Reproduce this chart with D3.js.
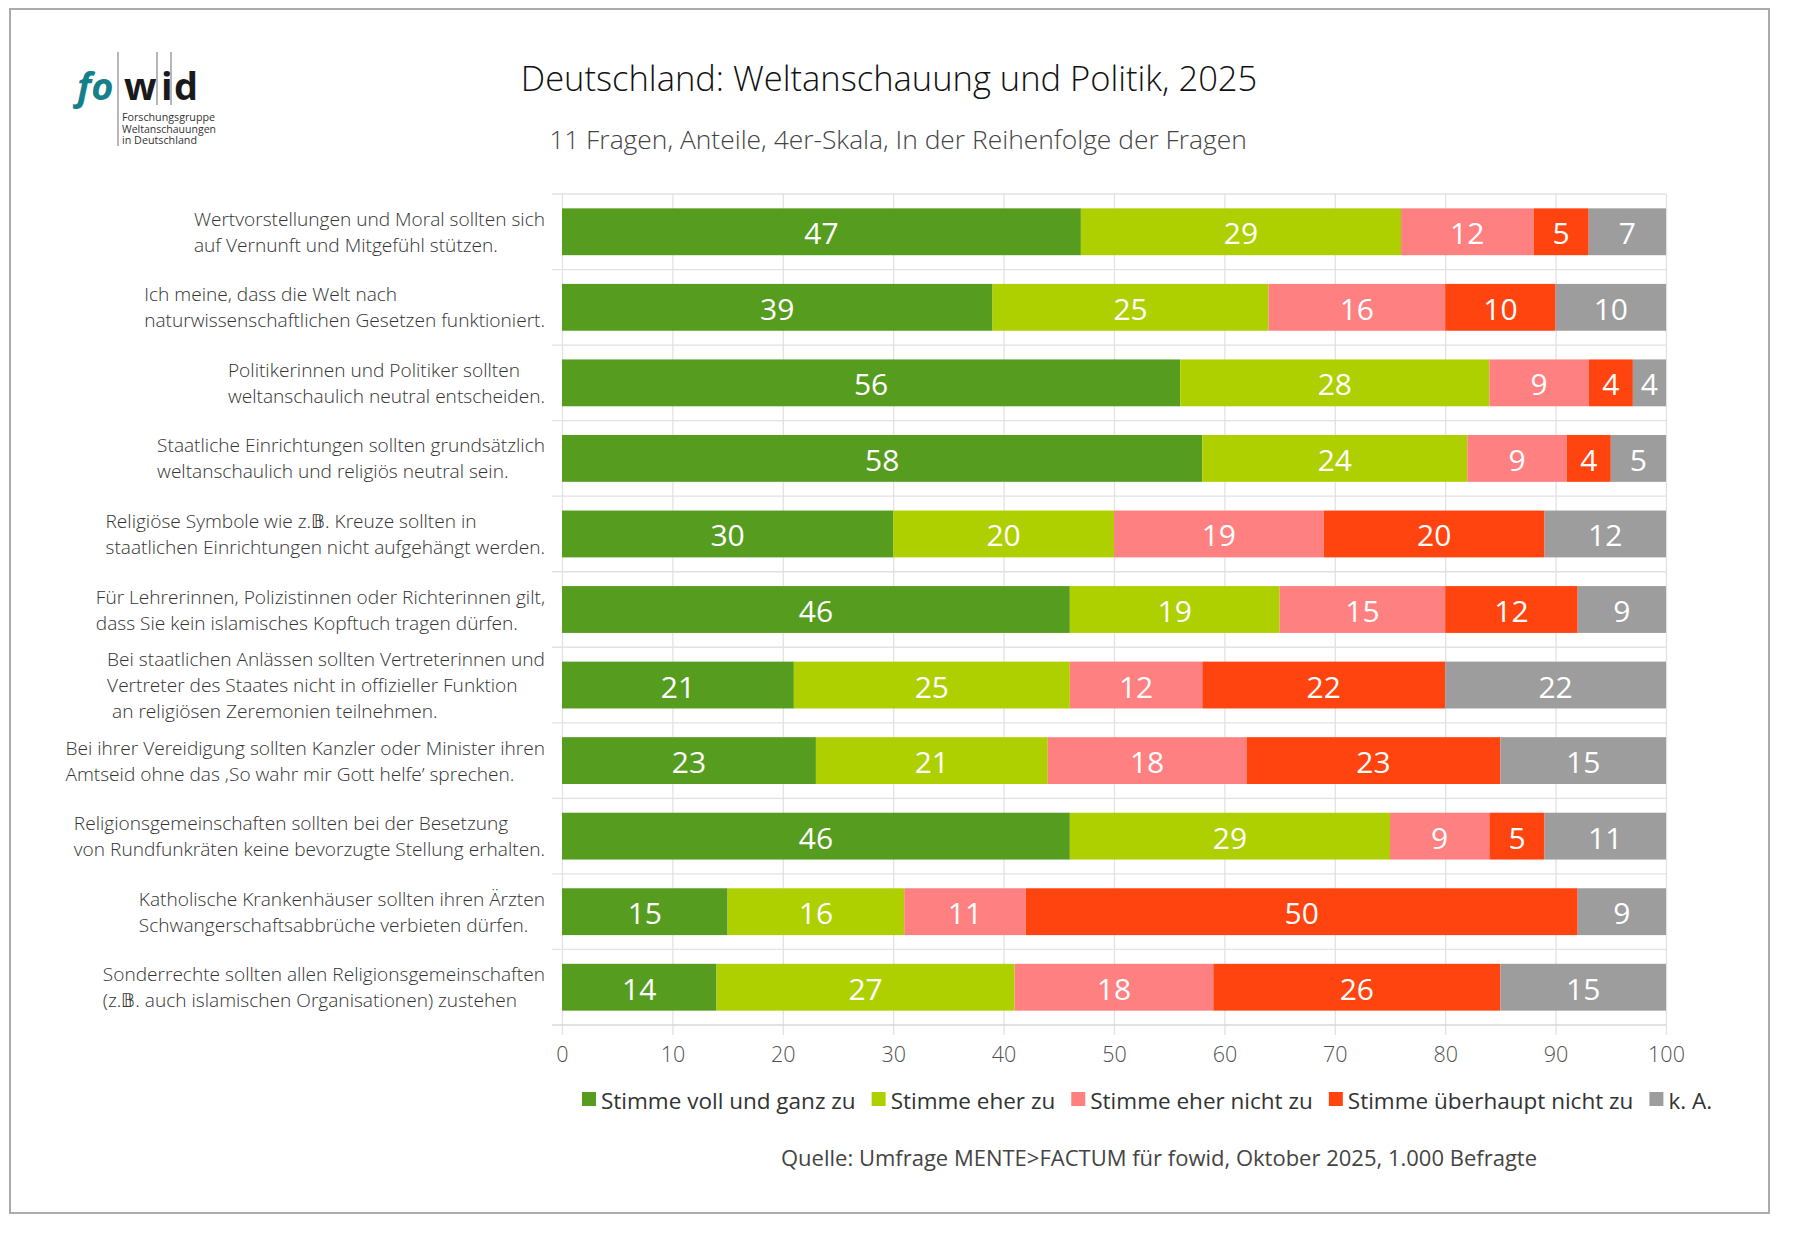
<!DOCTYPE html>
<html lang="de">
<head>
<meta charset="UTF-8">
<title>Deutschland: Weltanschauung und Politik, 2025</title>
<script src="https://d3js.org/d3.v7.min.js"></script>
<style>
  body { margin: 0; background: #fff; }
  text { font-family: "Open Sans", "Noto Sans", sans-serif; }
</style>
</head>
<body>
<script>
// questions (one entry per bar, split into lines as in the original)
const questions = [
  ["Wertvorstellungen und Moral sollten sich", "auf Vernunft und Mitgefühl stützen."],
  ["Ich meine, dass die Welt nach", "naturwissenschaftlichen Gesetzen funktioniert."],
  ["Politikerinnen und Politiker sollten", "weltanschaulich neutral entscheiden."],
  ["Staatliche Einrichtungen sollten grundsätzlich", "weltanschaulich und religiös neutral sein."],
  ["Religiöse Symbole wie z.𝔹. Kreuze sollten in", "staatlichen Einrichtungen nicht aufgehängt werden."],
  ["Für Lehrerinnen, Polizistinnen oder Richterinnen gilt,", "dass Sie kein islamisches Kopftuch tragen dürfen."],
  ["Bei staatlichen Anlässen sollten Vertreterinnen und", "Vertreter des Staates nicht in offizieller Funktion", "\u00a0an religiösen Zeremonien teilnehmen."],
  ["Bei ihrer Vereidigung sollten Kanzler oder Minister ihren", "Amtseid ohne das ‚So wahr mir Gott helfe’ sprechen."],
  ["Religionsgemeinschaften sollten bei der Besetzung", "von Rundfunkräten keine bevorzugte Stellung erhalten."],
  ["Katholische Krankenhäuser sollten ihren Ärzten", "Schwangerschaftsabbrüche verbieten dürfen."],
  ["Sonderrechte sollten allen Religionsgemeinschaften", "(z.𝔹. auch islamischen Organisationen) zustehen"]
];

const seriesNames = ["Stimme voll und ganz zu", "Stimme eher zu", "Stimme eher nicht zu", "Stimme überhaupt nicht zu", "k. A."];
const seriesColors = ["#569d1f", "#afd000", "#ff8080", "#ff4410", "#9d9d9d"];

// percentages as printed on the bars
const vollZu      = [47, 39, 56, 58, 30, 46, 21, 23, 46, 15, 14];
const eherZu      = [29, 25, 28, 24, 20, 19, 25, 21, 29, 16, 27];
const eherNicht   = [12, 16,  9,  9, 19, 15, 12, 18,  9, 11, 18];
const garNicht    = [ 5, 10,  4,  4, 20, 12, 22, 23,  5, 50, 26];
const keineAngabe = [ 7, 10,  4,  5, 12,  9, 22, 15, 11,  9, 15];

const xTicks = [0, 10, 20, 30, 40, 50, 60, 70, 80, 90, 100];

const W = 1795, H = 1233;
const plotLeft = 562, plotRight = 1666, plotTop = 194, plotBottom = 1025;

const svg = d3.select("body").append("svg")
  .attr("width", W)
  .attr("height", H);

svg.append("rect").attr("width", W).attr("height", H).attr("fill", "#fff");

// frame
svg.append("rect")
  .attr("x", 10).attr("y", 9)
  .attr("width", 1759).attr("height", 1204)
  .attr("fill", "none")
  .attr("stroke", "#ababab")
  .attr("stroke-width", 2);

// build table
const columns = [vollZu, eherZu, eherNicht, garNicht, keineAngabe];
const rows = questions.map(function (q, i) {
  const r = { id: i };
  seriesNames.forEach(function (s, j) { r[s] = columns[j][i]; });
  return r;
});
const stacked = d3.stack().keys(seriesNames)(rows);

const x = d3.scaleLinear().domain([0, 100]).range([plotLeft, plotRight]);
const y = d3.scaleBand()
  .domain(d3.range(questions.length))
  .range([plotTop, plotBottom])
  .paddingInner(0.38)
  .paddingOuter(0.19);

// vertical grid + ticks
svg.append("g")
  .attr("transform", "translate(0," + plotBottom + ")")
  .call(d3.axisBottom(x).tickValues(xTicks).tickSize(-(plotBottom - plotTop)).tickSizeOuter(0).tickPadding(22))
  .call(function (g) {
    g.select(".domain").remove();
    g.selectAll(".tick line").attr("stroke", "#e2e2e2").attr("stroke-width", 1.3)
      .attr("y1", 10);
    g.selectAll(".tick text")
      .attr("fill", "#505050")
      .attr("font-size", 21.5)
      .attr("font-weight", 300)
      .attr("font-family", "'Open Sans', sans-serif");
  });

// horizontal separators between categories
const step = y.step();
const seps = d3.range(questions.length + 1).map(function (i) { return plotTop + i * step; });
svg.append("g").selectAll("line")
  .data(seps)
  .enter().append("line")
  .attr("x1", plotLeft - 10)
  .attr("x2", plotRight)
  .attr("y1", function (d) { return d; })
  .attr("y2", function (d) { return d; })
  .attr("stroke", function (d, i) { return i === seps.length - 1 ? "#d8d8d8" : "#e2e2e2"; })
  .attr("stroke-width", 1.3);

// bars
const layers = svg.append("g").selectAll("g")
  .data(stacked)
  .enter().append("g")
  .attr("fill", function (d, i) { return seriesColors[i]; });

function segX0(d) { return x(Math.min(d[0], 100)); }
function segX1(d) { return x(Math.min(d[1], 100)); }

layers.selectAll("rect")
  .data(function (d) { return d; })
  .enter().append("rect")
  .attr("x", segX0)
  .attr("width", function (d) { return segX1(d) - segX0(d); })
  .attr("y", function (d) { return y(d.data.id); })
  .attr("height", y.bandwidth());

layers.each(function (layer) {
  d3.select(this).selectAll("text")
    .data(layer)
    .enter().append("text")
    .attr("x", function (d) { return (segX0(d) + segX1(d)) / 2; })
    .attr("y", function (d) { return y(d.data.id) + y.bandwidth() / 2 + 1; })
    .attr("text-anchor", "middle")
    .attr("dominant-baseline", "central")
    .attr("fill", "#fff")
    .attr("font-size", 30)
    .attr("font-weight", 400)
    .text(function (d) { return d[1] - d[0]; });
});

// category labels: left-aligned lines, block right-aligned to the axis
const labelRight = 545, lineH = 26;
questions.forEach(function (lines, i) {
  const g = svg.append("g");
  const cy = y(i) + y.bandwidth() / 2;
  const t = g.append("text")
    .attr("fill", "#333")
    .attr("font-size", 19.1)
    .attr("font-weight", 300);
  lines.forEach(function (ln, k) {
    t.append("tspan")
      .attr("x", 0)
      .attr("y", cy + (k - (lines.length - 1) / 2) * lineH)
      .attr("dominant-baseline", "central")
      .text(ln);
  });
  const w = t.node().getBBox().width;
  t.attr("transform", "translate(" + (labelRight - w) + ",0)");
});

// title and subtitle
svg.append("text")
  .attr("x", 889).attr("y", 77)
  .attr("text-anchor", "middle")
  .attr("dominant-baseline", "central")
  .attr("fill", "#111")
  .attr("font-size", 34.5)
  .attr("font-weight", 300)
  .text("Deutschland: Weltanschauung und Politik, 2025");

svg.append("text")
  .attr("x", 898).attr("y", 139)
  .attr("text-anchor", "middle")
  .attr("dominant-baseline", "central")
  .attr("fill", "#444")
  .attr("font-size", 26.4)
  .attr("font-weight", 300)
  .text("11 Fragen, Anteile, 4er-Skala, In der Reihenfolge der Fragen");

// legend
const legend = svg.append("g").attr("transform", "translate(582,1099)");
let lx = 0;
seriesNames.forEach(function (s, i) {
  legend.append("rect")
    .attr("x", lx).attr("y", -7)
    .attr("width", 14).attr("height", 14)
    .attr("fill", seriesColors[i]);
  const t = legend.append("text")
    .attr("x", lx + 19).attr("y", 1)
    .attr("dominant-baseline", "central")
    .attr("fill", "#333")
    .attr("font-size", 22.5)
    .attr("font-weight", 400)
    .text(s);
  lx += 19 + t.node().getComputedTextLength() + 16;
});

// source
svg.append("text")
  .attr("x", 1159).attr("y", 1157)
  .attr("text-anchor", "middle")
  .attr("dominant-baseline", "central")
  .attr("fill", "#444")
  .attr("font-size", 22)
  .attr("font-weight", 400)
  .text("Quelle: Umfrage MENTE>FACTUM für fowid, Oktober 2025, 1.000 Befragte");

// logo
const logo = svg.append("g");
logo.append("text")
  .attr("x", 77).attr("y", 100)
  .attr("fill", "#15808b")
  .attr("font-family", "'Liberation Sans', Arial, sans-serif")
  .attr("font-size", 38).attr("font-weight", 700).attr("font-style", "italic")
  .text("fo");
[["w", 124], ["i", 161], ["d", 174]].forEach(function (c) {
  logo.append("text")
    .attr("x", c[1]).attr("y", 100)
    .attr("fill", "#1a1a1a")
    .attr("font-family", "'Liberation Sans', Arial, sans-serif")
    .attr("font-size", 38).attr("font-weight", 700)
    .text(c[0]);
});
[[118, 52, 146], [157, 52, 105], [171, 52, 105]].forEach(function (l) {
  logo.append("line")
    .attr("x1", l[0]).attr("x2", l[0])
    .attr("y1", l[1]).attr("y2", l[2])
    .attr("stroke", "#888").attr("stroke-width", 1.2);
});
[["Forschungsgruppe", 93], ["Weltanschauungen", 94], ["in Deutschland", 75]].forEach(function (s, i) {
  logo.append("text")
    .attr("x", 122).attr("y", 121 + i * 11.5)
    .attr("fill", "#333")
    .attr("font-family", "'Liberation Sans', Arial, sans-serif")
    .attr("font-size", 10)
    .attr("textLength", s[1])
    .attr("lengthAdjust", "spacingAndGlyphs")
    .text(s[0]);
});
</script>
</body>
</html>
